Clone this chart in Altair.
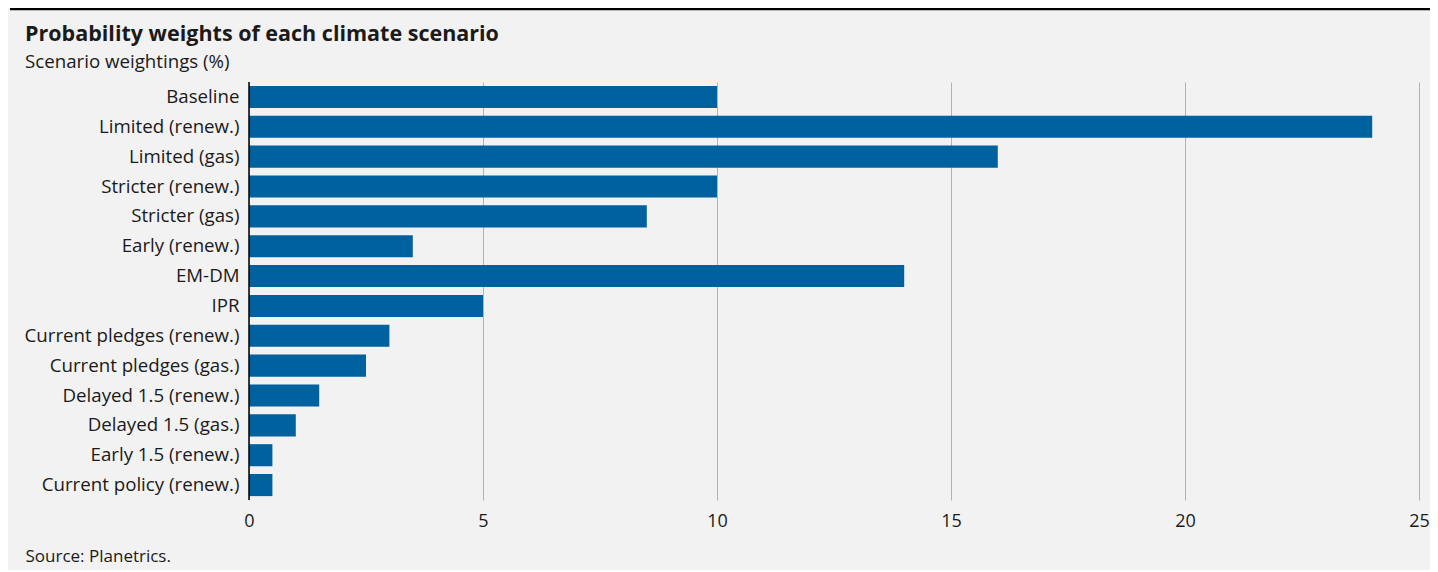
import altair as alt
import pandas as pd

scenarios = [
    "Baseline", "Limited (renew.)", "Limited (gas)", "Stricter (renew.)",
    "Stricter (gas)", "Early (renew.)", "EM-DM", "IPR",
    "Current pledges (renew.)", "Current pledges (gas.)", "Delayed 1.5 (renew.)",
    "Delayed 1.5 (gas.)", "Early 1.5 (renew.)", "Current policy (renew.)",
]
weights = [10, 24, 16, 10, 8.5, 3.5, 14, 5, 3, 2.5, 1.5, 1, 0.5, 0.5]
x_ticks = [0, 5, 10, 15, 20, 25]
title_text = ["Probability weights of each climate scenario"]
subtitle_text = ["Scenario weightings (%)"]

df = pd.DataFrame({"scenario": scenarios, "weight": weights})

FONT = "Open Sans"
TXT = "#1a1a1a"

bars = alt.Chart(df).mark_bar(color="#00619f").encode(
    y=alt.Y("scenario:N", sort=scenarios,
            scale=alt.Scale(paddingInner=0.26, paddingOuter=0.13),
            axis=alt.Axis(title=None, labelFontSize=18.7, labelFont=FONT, labelColor=TXT,
                          labelPadding=10, labelLimit=400, ticks=False, domain=False,
                          grid=False)),
    x=alt.X("weight:Q", scale=alt.Scale(domain=[0, 25], nice=False),
            axis=alt.Axis(values=x_ticks, title="Source: Planetrics.", titleFont=FONT,
                          titleFontSize=17, titleFontWeight="normal", titleColor=TXT,
                          titleX=-224, titleY=56, titleAlign="left",
                          titleBaseline="middle",
                          labelFontSize=18, labelFont=FONT, labelColor=TXT, labelPadding=12,
                          labelFlush=False,
                          ticks=False, domain=False, grid=True, gridColor="#b3b3b3",
                          gridWidth=1)),
)

zero_line = alt.Chart(pd.DataFrame({"z": [0]})).mark_rule(color="#000000", strokeWidth=1.5).encode(
    x=alt.X("z:Q")
)

top_line = alt.Chart(pd.DataFrame({"z": [0]})).mark_rule(color="#000000", strokeWidth=2.5).encode(
    x=alt.value(-239), x2=alt.value(1181), y=alt.value(-73)
)

title = alt.Chart(pd.DataFrame({"t": title_text})).mark_text(
    font=FONT, fontSize=21.5, fontWeight="bold", color=TXT, align="left", baseline="alphabetic"
).encode(x=alt.value(-224), y=alt.value(-41), text="t:N")

subtitle = alt.Chart(pd.DataFrame({"t": subtitle_text})).mark_text(
    font=FONT, fontSize=18.7, color=TXT, align="left", baseline="alphabetic"
).encode(x=alt.value(-224), y=alt.value(-14), text="t:N")

chart = alt.layer(bars, zero_line, top_line, title, subtitle).properties(
    width=1170, height=418,
    autosize=alt.AutoSizeParams(type="none"),
    padding={"left": 241, "top": 74, "right": 11, "bottom": 70},
    background="#f2f2f2",
).configure_view(stroke=None)

chart.save("out.html", embed_options={"renderer": "svg", "actions": False})
